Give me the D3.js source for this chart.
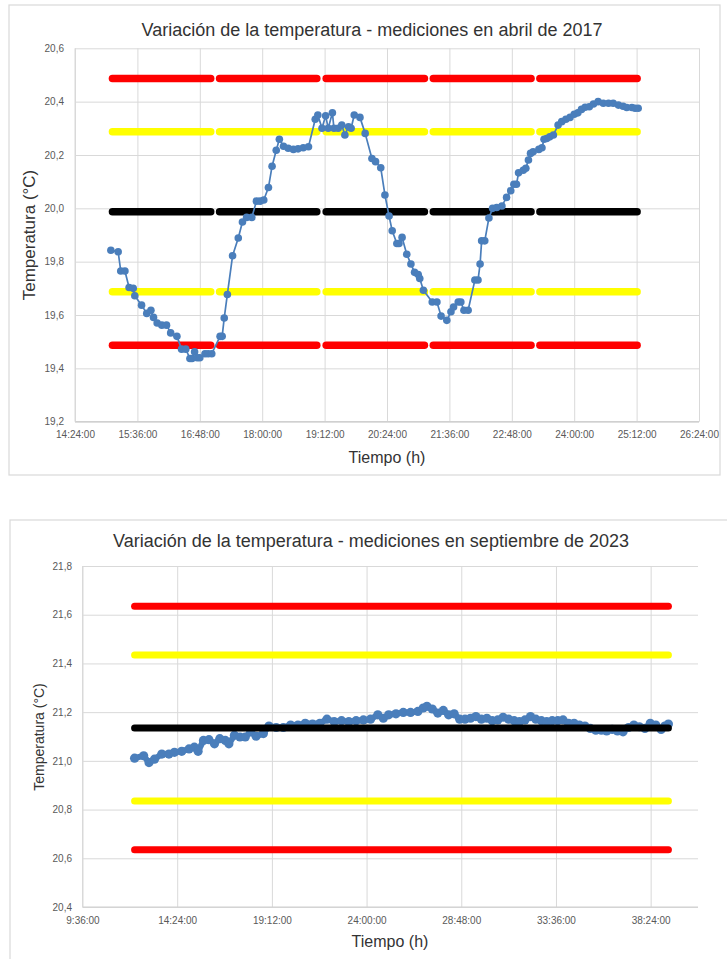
<!DOCTYPE html>
<html>
<head>
<meta charset="utf-8">
<script src="https://cdn.jsdelivr.net/npm/d3@7"></script>
<style>
  body { margin: 0; background: #fff; }
  svg { display: block; }
</style>
</head>
<body>
<div id="area"></div>
<script>
    // Abril 2017 - hora (h, decimal) y temperatura (°C)
    var abrilHoras = [15.09, 15.23, 15.28, 15.36, 15.44, 15.52, 15.55, 15.68, 15.78, 15.86,
        15.91, 15.98, 16.07, 16.16, 16.24, 16.36, 16.45, 16.53, 16.61, 16.65,
        16.70, 16.75, 16.80, 16.90, 16.96, 17.03, 17.19, 17.23, 17.27, 17.33,
        17.43, 17.54, 17.62, 17.70, 17.80, 17.89, 17.96, 18.03, 18.12, 18.19,
        18.27, 18.33, 18.41, 18.50, 18.60, 18.69, 18.79, 18.89, 19.02, 19.07,
        19.15, 19.22, 19.27, 19.35, 19.38, 19.46, 19.53, 19.59, 19.66, 19.71,
        19.77, 19.88, 19.98, 20.11, 20.18, 20.28, 20.36, 20.44, 20.50, 20.59,
        20.63, 20.69, 20.78, 20.86, 20.93, 21.00, 21.03, 21.10, 21.27, 21.36,
        21.44, 21.55, 21.63, 21.68, 21.77, 21.82, 21.88, 21.96, 22.09, 22.15,
        22.19, 22.22, 22.28, 22.36, 22.43, 22.51, 22.61, 22.70, 22.78, 22.84,
        22.89, 22.93, 23.02, 23.07, 23.12, 23.16, 23.21, 23.32, 23.38, 23.42,
        23.47, 23.53, 23.60, 23.69, 23.76, 23.84, 23.92, 24.00, 24.07, 24.14,
        24.21, 24.29, 24.37, 24.46, 24.56, 24.66, 24.75, 24.85, 24.94, 25.01,
        25.11, 25.17, 25.23];
    var abrilTemp = [19.843, 19.837, 19.765, 19.765, 19.703, 19.700, 19.672, 19.637, 19.606, 19.618,
        19.591, 19.570, 19.562, 19.562, 19.533, 19.520, 19.472, 19.472, 19.437, 19.437,
        19.462, 19.440, 19.440, 19.455, 19.455, 19.455, 19.520, 19.520, 19.589, 19.677,
        19.822, 19.889, 19.949, 19.966, 19.966, 20.027, 20.027, 20.031, 20.078, 20.158,
        20.218, 20.259, 20.233, 20.225, 20.221, 20.223, 20.227, 20.231, 20.334, 20.350,
        20.300, 20.347, 20.300, 20.358, 20.300, 20.300, 20.312, 20.275, 20.306, 20.300,
        20.350, 20.341, 20.281, 20.187, 20.175, 20.152, 20.050, 19.971, 19.916, 19.868,
        19.868, 19.891, 19.828, 19.791, 19.760, 19.752, 19.737, 19.693, 19.649, 19.649,
        19.596, 19.580, 19.612, 19.630, 19.649, 19.649, 19.618, 19.618, 19.731, 19.731,
        19.791, 19.878, 19.878, 19.964, 20.000, 20.003, 20.009, 20.041, 20.066, 20.090,
        20.090, 20.133, 20.143, 20.150, 20.181, 20.206, 20.212, 20.221, 20.227, 20.259,
        20.262, 20.268, 20.275, 20.312, 20.325, 20.334, 20.341, 20.353, 20.358, 20.371,
        20.379, 20.381, 20.391, 20.400, 20.394, 20.394, 20.394, 20.387, 20.383, 20.378,
        20.378, 20.375, 20.375];
    // limites: +0.5, +0.3, media, -0.3, -0.5
    var abrilNiveles = [20.487, 20.287, 19.987, 19.687, 19.487];
    var abrilTramos = [[15.12, 17.01], [17.18, 19.05], [19.23, 21.12], [21.29, 23.17], [23.34, 25.21]];
    var abrilTicksX = [14.4, 15.6, 16.8, 18.0, 19.2, 20.4, 21.6, 22.8, 24.0, 25.2, 26.4];
    var abrilTicksY = [19.2, 19.4, 19.6, 19.8, 20.0, 20.2, 20.4, 20.6];

    // Septiembre 2023
    var septHoras = [12.24, 12.70, 12.97, 13.25, 13.62, 13.98, 14.26, 14.63, 15.00, 15.27,
        15.46, 15.73, 16.01, 16.29, 16.56, 16.84, 17.02, 17.30, 17.58, 17.85,
        18.13, 18.40, 18.77, 19.05, 19.42, 19.78, 20.15, 20.52, 20.89, 21.26,
        21.63, 21.99, 22.36, 22.73, 23.10, 23.47, 23.84, 24.20, 24.57, 24.85,
        25.12, 25.49, 25.86, 26.23, 26.60, 26.87, 27.06, 27.33, 27.61, 27.89,
        28.16, 28.44, 28.72, 28.99, 29.27, 29.54, 29.82, 30.10, 30.37, 30.65,
        30.92, 31.20, 31.48, 31.75, 32.03, 32.31, 32.58, 32.86, 33.13, 33.41,
        33.69, 33.96, 34.24, 34.52, 34.79, 35.07, 35.34, 35.62, 35.90, 36.17,
        36.45, 36.72, 37.00, 37.28, 37.55, 37.83, 38.11, 38.38, 38.66, 38.93,
        39.12, 39.30];
    var septTemp = [21.011, 21.021, 20.993, 21.007, 21.028, 21.028, 21.035, 21.039, 21.049, 21.056,
        21.039, 21.084, 21.087, 21.070, 21.091, 21.084, 21.070, 21.105, 21.098, 21.098,
        21.119, 21.101, 21.112, 21.143, 21.137, 21.137, 21.147, 21.147, 21.154, 21.151,
        21.154, 21.171, 21.161, 21.165, 21.161, 21.165, 21.168, 21.171, 21.189, 21.175,
        21.189, 21.193, 21.199, 21.199, 21.203, 21.217, 21.224, 21.213, 21.196, 21.207,
        21.189, 21.193, 21.171, 21.171, 21.175, 21.182, 21.171, 21.175, 21.165, 21.168,
        21.179, 21.171, 21.165, 21.161, 21.168, 21.182, 21.171, 21.165, 21.161, 21.165,
        21.165, 21.168, 21.154, 21.154, 21.147, 21.143, 21.133, 21.126, 21.126, 21.123,
        21.129, 21.123, 21.119, 21.137, 21.147, 21.140, 21.133, 21.154, 21.147, 21.129,
        21.143, 21.151];
    var septNiveles = [21.635, 21.435, 21.135, 20.835, 20.635];
    var septTramos = [[12.24, 39.30]];
    var septTicksX = [9.6, 14.4, 19.2, 24.0, 28.8, 33.6, 38.4];
    var septTicksY = [20.4, 20.6, 20.8, 21.0, 21.2, 21.4, 21.6, 21.8];

    var coloresNivel = ["#ff0000", "#ffff00", "#000000", "#ffff00", "#ff0000"];
    var fuente = "'Liberation Sans', Arial, sans-serif";

    // 14.4 -> "14:24:00"
    function horaTexto(h) {
        var m = Math.round(h * 60);
        var mm = m % 60;
        return Math.floor(m / 60) + ":" + (mm < 10 ? "0" : "") + mm + ":00";
    }
    function numTexto(v) { return v.toFixed(1).replace(".", ","); }

    var svg = d3.select("#area").append("svg")
        .attr("width", 727)
        .attr("height", 959);

    function dibujar(c) {
        var g = svg.append("g");

        // marco del grafico
        g.append("rect")
            .attr("x", c.marco[0]).attr("y", c.marco[1])
            .attr("width", c.marco[2]).attr("height", c.marco[3])
            .attr("fill", "#fff").attr("stroke", "#d9d9d9").attr("stroke-width", 1.2);

        var x = d3.scaleLinear().domain(c.dx).range([c.left, c.right]);
        var y = d3.scaleLinear().domain(c.dy).range([c.bottom, c.top]);

        // rejilla + etiquetas
        var ay = g.append("g").attr("transform", "translate(" + c.left + ",0)")
            .call(d3.axisLeft(y).tickValues(c.ticksY).tickFormat(numTexto)
                .tickSizeInner(-(c.right - c.left)).tickSizeOuter(0).tickPadding(c.padY));
        var ax = g.append("g").attr("transform", "translate(0," + c.bottom + ")")
            .call(d3.axisBottom(x).tickValues(c.ticksX).tickFormat(horaTexto)
                .tickSizeInner(-(c.bottom - c.top)).tickSizeOuter(0).tickPadding(c.padX));
        [ax, ay].forEach(function (a) {
            a.select(".domain").remove();
            a.selectAll("line").attr("stroke", "#d9d9d9").attr("stroke-width", 1);
            a.selectAll("text").attr("fill", "#595959")
                .style("font-family", fuente).style("font-size", "10px");
        });
        g.append("line")
            .attr("x1", c.left).attr("x2", c.right)
            .attr("y1", c.bottom).attr("y2", c.bottom)
            .attr("stroke", "#d0d0d0").attr("stroke-width", 1.2);
        g.append("line")
            .attr("x1", c.left).attr("x2", c.left)
            .attr("y1", c.top).attr("y2", c.bottom)
            .attr("stroke", "#d9d9d9").attr("stroke-width", 1);

        var puntos = c.horas.map(function (h, i) { return [h, c.temp[i]]; });

        function niveles() {
            var seg = [];
            c.niveles.forEach(function (v, i) {
                c.tramos.forEach(function (t) { seg.push({ v: v, a: t[0], b: t[1], col: coloresNivel[i] }); });
            });
            g.append("g").selectAll("line").data(seg).enter().append("line")
                .attr("x1", function (d) { return x(d.a); })
                .attr("x2", function (d) { return x(d.b); })
                .attr("y1", function (d) { return y(d.v); })
                .attr("y2", function (d) { return y(d.v); })
                .attr("stroke", function (d) { return d.col; })
                .attr("stroke-width", c.grosor)
                .attr("stroke-linecap", "round");
        }
        function serie() {
            var s = g.append("g");
            s.append("path").datum(puntos)
                .attr("d", d3.line().x(function (d) { return x(d[0]); }).y(function (d) { return y(d[1]); }))
                .attr("fill", "none").attr("stroke", "#4a7ebb").attr("stroke-width", c.anchoLinea)
                .attr("stroke-linejoin", "round");
            s.selectAll("circle").data(puntos).enter().append("circle")
                .attr("cx", function (d) { return x(d[0]); })
                .attr("cy", function (d) { return y(d[1]); })
                .attr("r", c.radio)
                .attr("fill", "#4a7ebb");
        }
        if (c.serieEncima) { niveles(); serie(); } else { serie(); niveles(); }

        // textos
        g.append("text").text(c.titulo)
            .attr("x", c.tituloPos[0]).attr("y", c.tituloPos[1])
            .attr("text-anchor", "middle").attr("fill", "#333")
            .style("font-family", fuente).style("font-size", c.tituloSize + "px");
        g.append("text").text("Tiempo (h)")
            .attr("x", c.ejeX[0]).attr("y", c.ejeX[1])
            .attr("text-anchor", "middle").attr("dominant-baseline", "central").attr("fill", "#333")
            .style("font-family", fuente).style("font-size", "16px");
        g.append("text").text("Temperatura (°C)")
            .attr("transform", "translate(" + c.ejeY[0] + "," + c.ejeY[1] + ") rotate(-90)")
            .attr("text-anchor", "middle").attr("dominant-baseline", "central").attr("fill", "#333")
            .style("font-family", fuente).style("font-size", c.ejeYSize + "px");
    }

    dibujar({
        marco: [9, 5, 711, 470],
        left: 75, right: 699, top: 48.3, bottom: 421.7,
        dx: [14.4, 26.4], dy: [19.2, 20.6],
        ticksX: abrilTicksX, ticksY: abrilTicksY, padX: 9, padY: 11,
        horas: abrilHoras, temp: abrilTemp,
        niveles: abrilNiveles, tramos: abrilTramos,
        grosor: 7.5, anchoLinea: 1.7, radio: 3.8, serieEncima: true,
        titulo: "Variación de la temperatura - mediciones en abril de 2017",
        tituloPos: [372, 36], tituloSize: 18,
        ejeX: [387, 457], ejeY: [29, 235], ejeYSize: 17
    });

    dibujar({
        marco: [10, 520, 730, 460],
        left: 82.5, right: 698, top: 566, bottom: 907,
        dx: [9.6, 40.8], dy: [20.4, 21.8],
        ticksX: septTicksX, ticksY: septTicksY, padX: 9.5, padY: 10.5,
        horas: septHoras, temp: septTemp,
        niveles: septNiveles, tramos: septTramos,
        grosor: 7, anchoLinea: 6, radio: 4.6, serieEncima: false,
        titulo: "Variación de la temperatura - mediciones en septiembre de 2023",
        tituloPos: [371, 547], tituloSize: 18,
        ejeX: [390, 941], ejeY: [38.5, 737], ejeYSize: 14
    });
</script>
</body>
</html>
